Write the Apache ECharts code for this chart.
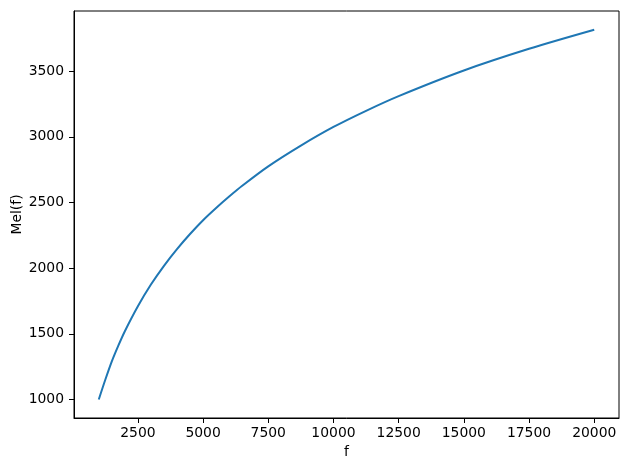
<!DOCTYPE html>
<html>
<head>
<meta charset="utf-8">
<script src="https://cdn.jsdelivr.net/npm/echarts@6/dist/echarts.min.js"></script>
<style>
  html, body { margin: 0; padding: 0; background: #fff; }
  #chart { width: 635px; height: 462px; }
</style>
</head>
<body>
<div id="chart"></div>
<script>
// values
var freqs = [1000, 1250, 1500, 1750, 2000, 2500, 3000, 3500, 4000, 4500, 5000, 5500, 6000, 6500, 7500, 8750, 10000, 11250, 12500, 15000, 17500, 20000];
var mels = [1000, 1150, 1290, 1410, 1520, 1710, 1875, 2018, 2145, 2260, 2365, 2458, 2545, 2627, 2775, 2933, 3075, 3198, 3310, 3505, 3670, 3815];
var xTicks = [2500, 5000, 7500, 10000, 12500, 15000, 17500, 20000];
var yTicks = [1000, 1500, 2000, 2500, 3000, 3500];

var font = "DejaVu Sans";
var fs = 13.9;
var chart = echarts.init(document.getElementById("chart"));

function plain(v) { return String(v); }

var option = {
  animation: false,
  grid: {
    left: 74, right: 16, top: 11, bottom: 44,
    containLabel: false,
    outerBoundsMode: "none",
    show: true, borderColor: "#000", borderWidth: 1, backgroundColor: "transparent"
  },
  xAxis: {
    type: "value",
    min: 50, max: 20950,
    name: "f",
    nameLocation: "middle",
    nameGap: 27,
    nameMoveOverlap: false,
    nameTextStyle: { color: "#000", fontFamily: font, fontSize: fs },
    axisLine: { show: true, lineStyle: { color: "#000" } },
    axisTick: { show: true, length: 5, customValues: xTicks, lineStyle: { color: "#000" } },
    axisLabel: { customValues: xTicks, formatter: plain, color: "#000", fontFamily: font, fontSize: fs, margin: 8 },
    splitLine: { show: false }
  },
  yAxis: {
    type: "value",
    min: 859, max: 3958,
    name: "Mel(f)",
    nameLocation: "middle",
    nameGap: 50,
    nameMoveOverlap: false,
    nameTextStyle: { color: "#000", fontFamily: font, fontSize: fs },
    axisLine: { show: true, lineStyle: { color: "#000" } },
    axisTick: { show: true, length: 5, customValues: yTicks, lineStyle: { color: "#000" } },
    axisLabel: { customValues: yTicks, formatter: plain, color: "#000", fontFamily: font, fontSize: fs, margin: 10 },
    splitLine: { show: false }
  },
  series: [
    {
      type: "line",
      data: freqs.map(function (f, i) { return [f, mels[i]]; }),
      smooth: 0.3,
      showSymbol: false,
      lineStyle: { color: "#1f77b4", width: 2 }
    }
  ]
};

chart.setOption(option);
</script>
</body>
</html>
